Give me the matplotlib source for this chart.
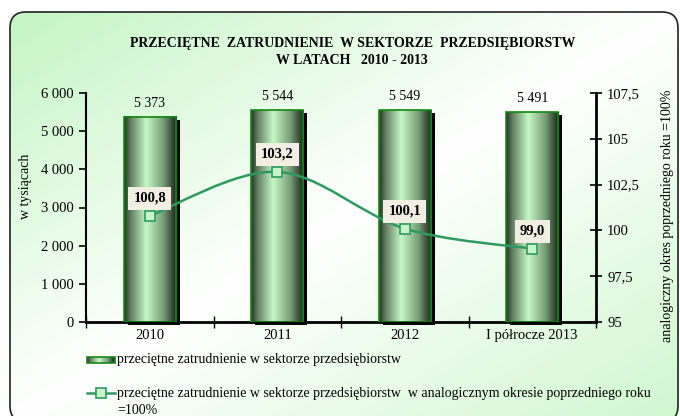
import numpy as np
from matplotlib import pyplot as plt
from matplotlib.colors import LinearSegmentedColormap
from matplotlib.patches import Rectangle, FancyBboxPatch
from matplotlib.path import Path
from matplotlib.patches import PathPatch
from matplotlib.lines import Line2D

plt.rcParams['font.family'] = ['Liberation Serif', 'DejaVu Serif']

categories = ['2010', '2011', '2012', 'I półrocze 2013']
employment = [5373, 5544, 5549, 5491]          # w tysiącach
index_prev = [100.8, 103.2, 100.1, 99.0]       # poprzedni rok = 100
index_labels = ['100,8', '103,2', '100,1', '99,0']
left_ticks = [0, 1000, 2000, 3000, 4000, 5000, 6000]
right_ticks = [95, 97.5, 100, 102.5, 105, 107.5]

W, H = 680, 416
fig = plt.figure(figsize=(W/100, H/100), dpi=100)

# background with rounded frame and diagonal gradient
bg = fig.add_axes([0, 0, 1, 1], zorder=-5)
bg.set_xlim(0, W)
bg.set_ylim(0, H)
bg.axis('off')
yy, xx = np.mgrid[0:1:200j, 0:1:300j]
t = (xx + yy) / 2.0
bgcmap = LinearSegmentedColormap.from_list('bg', [(0, '#c4f5c4'), (0.5, '#ffffff'), (1, '#d0f7d0')])
frame = FancyBboxPatch((10, -6), 668, 410, boxstyle='round,pad=0,rounding_size=16',
                       fc='none', ec='#222222', lw=1.2, zorder=3)
bg.add_patch(frame)
im = bg.imshow(t, cmap=bgcmap, extent=[10, 678, -6, 404], origin='upper', aspect='auto', zorder=1)
im.set_clip_path(frame)

barcmap = LinearSegmentedColormap.from_list('bar', [(0, '#263626'), (0.12, '#627f62'),
                                                    (0.42, '#c6f8c6'), (0.75, '#779c77'),
                                                    (1, '#162416')])
grad = np.linspace(0, 1, 100).reshape(1, -1)

ax = fig.add_axes([86/W, 94/H, 510/W, 229/H])
ax.patch.set_alpha(0)
n = len(categories)
x = np.arange(n)
bw = 0.41
dx = 4/127.5
dy = 3*6000/229
for i, v in enumerate(employment):
    ax.add_patch(Rectangle((i - bw/2 + dx, -dy), bw, v, fc='black', ec='none', zorder=1.5, clip_on=False))
    ax.imshow(grad, cmap=barcmap, extent=[i - bw/2, i + bw/2, 0, v], aspect='auto', zorder=2)
    ax.add_patch(Rectangle((i - bw/2, 0), bw, v, fill=False, ec='#138a13', lw=1.2, zorder=3))
    ax.annotate('{:,}'.format(v).replace(',', ' '), (i, v), xytext=(0, 5), textcoords='offset points',
                ha='center', va='bottom', fontsize=10)

ax.set_xlim(-0.5, n - 0.5)
ax.set_ylim(0, 6000)
ax.set_yticks(left_ticks)
ax.set_yticklabels(['{:,}'.format(v).replace(',', ' ') for v in left_ticks], fontsize=10.5)
ax.set_xticks(np.arange(-0.5, n, 1.0))
ax.set_xticklabels([])
ax.set_xticks(x, minor=True)
ax.set_xticklabels(categories, minor=True, fontsize=10.5)
ax.tick_params(axis='x', which='major', direction='inout', length=8, width=1)
ax.tick_params(axis='x', which='minor', length=0, pad=5)
ax.tick_params(axis='y', direction='out', length=5, width=1.2, pad=4)
ax.spines['top'].set_visible(False)
ax.spines['right'].set_visible(False)
ax.spines['left'].set_linewidth(1.5)
ax.spines['bottom'].set_linewidth(2)

ax2 = ax.twinx()
ax2.set_ylim(95, 107.5)
ax2.set_yticks(right_ticks)
ax2.set_yticklabels([('%g' % v).replace('.', ',') for v in right_ticks], fontsize=10.5)
ax2.tick_params(axis='y', direction='inout', length=8, width=1.2, pad=4)
for s in ['top', 'left', 'bottom']:
    ax2.spines[s].set_visible(False)
ax2.spines['right'].set_linewidth(2)

# smooth line (Catmull-Rom as bezier) through the index points
sx, sy = 127.5, 229/12.5
P = np.column_stack([x * sx, (np.array(index_prev) - 95) * sy])
Pe = np.vstack([P[0], P, P[-1]])
verts = [P[0]]
codes = [Path.MOVETO]
for k in range(1, len(Pe) - 2):
    p0, p1, p2, p3 = Pe[k-1], Pe[k], Pe[k+1], Pe[k+2]
    verts += [p1 + (p2 - p0)/6, p2 - (p3 - p1)/6, p2]
    codes += [Path.CURVE4]*3
verts = np.array(verts)
verts[:, 0] /= sx
verts[:, 1] = verts[:, 1]/sy + 95
ax2.add_patch(PathPatch(Path(verts, codes), fc='none', ec='#2e9a62', lw=1.8, zorder=4))
ax2.plot(x, index_prev, ls='none', marker='s', ms=7, mfc='#c8f5c8', mec='#2e9a62', mew=1.2, zorder=5)
for i, (v, lab) in enumerate(zip(index_prev, index_labels)):
    ax2.annotate(lab, (i, v), xytext=(0, 12.5), textcoords='offset points', ha='center', va='center',
                 fontsize=10.5, fontweight='bold',
                 bbox=dict(boxstyle='square,pad=0.35', fc='#f1efe3', ec='none'), zorder=6)

# titles and labels
fig.text(353/W, 1 - 44/H, 'PRZECIĘTNE  ZATRUDNIENIE  W SEKTORZE  PRZEDSIĘBIORSTW',
         ha='center', va='center', fontsize=10, fontweight='bold')
fig.text(352/W, 1 - 61/H, 'W LATACH   2010 - 2013', ha='center', va='center', fontsize=10, fontweight='bold')
fig.text(26/W, 1 - 186/H, 'w tysiącach', rotation=90, ha='center', va='center', fontsize=10)
fig.text(668/W, 1 - 216/H, 'analogiczny okres poprzedniego roku =100%', rotation=90,
         ha='center', va='center', fontsize=10)

# legend
bg.imshow(grad, cmap=barcmap, extent=[87, 115, H - 363, H - 357], aspect='auto', zorder=4)
bg.add_patch(Rectangle((87, H - 363), 28, 6, fill=False, ec='#138a13', lw=1.2, zorder=5))
bg.text(117, H - 360, 'przeciętne zatrudnienie w sektorze przedsiębiorstw', va='center', fontsize=10, zorder=5)
bg.add_line(Line2D([87, 115], [H - 393, H - 393], color='#2e9a62', lw=1.8, zorder=5))
bg.plot([101], [H - 393], marker='s', ms=7, mfc='#c8f5c8', mec='#2e9a62', mew=1.2, zorder=6)
bg.text(117, H - 393, 'przeciętne zatrudnienie w sektorze przedsiębiorstw  w analogicznym okresie poprzedniego roku',
        va='center', fontsize=10, zorder=5)
bg.text(117, H - 410, '=100%', va='center', fontsize=10, zorder=5)

plt.savefig('out.png', dpi=100)
